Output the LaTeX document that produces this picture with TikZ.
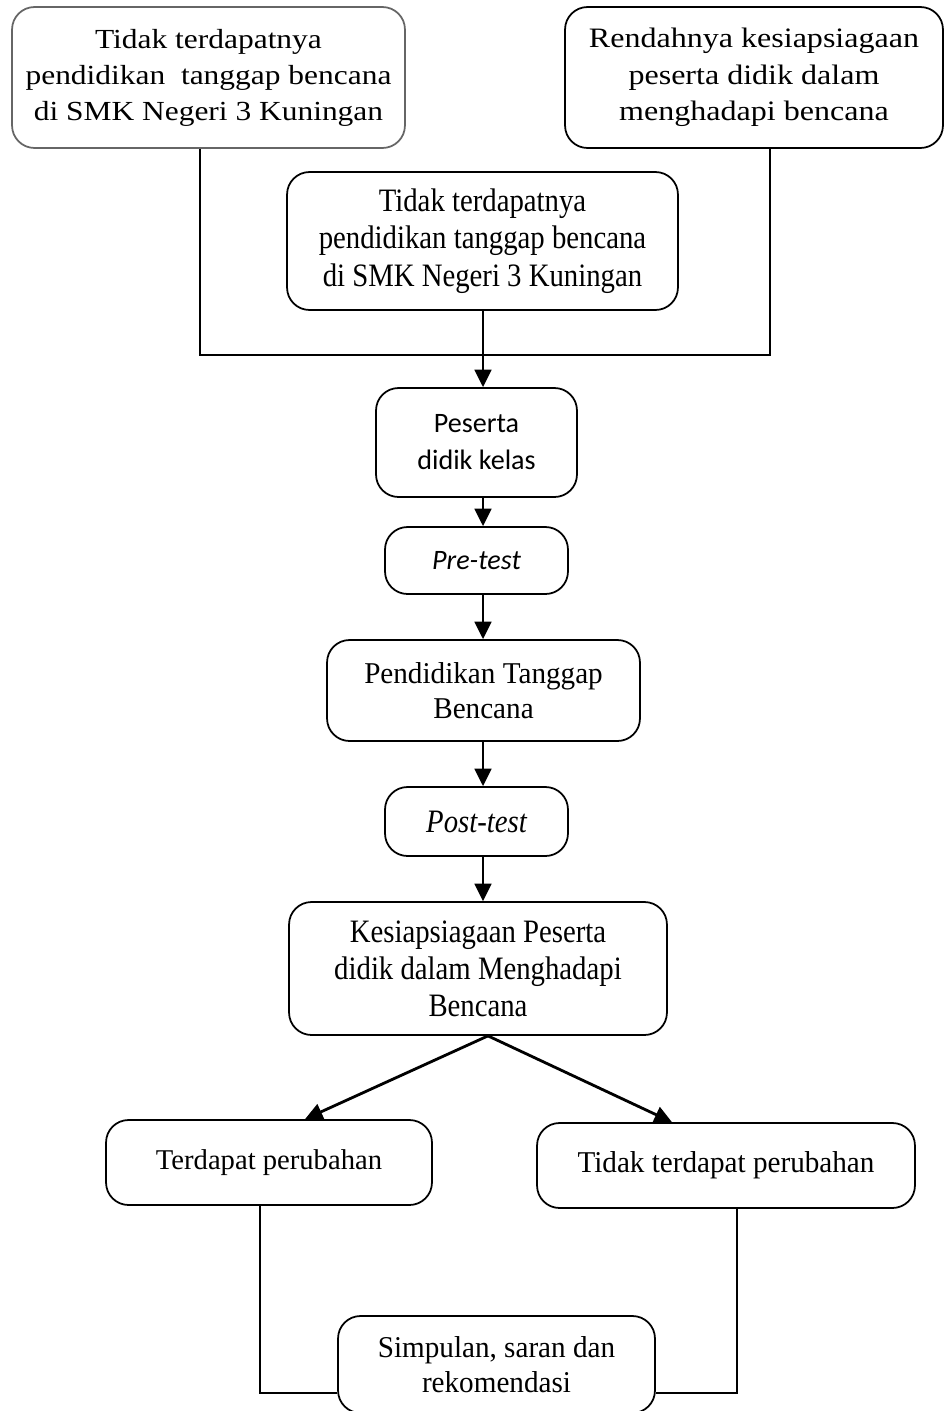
\documentclass[tikz,border=0pt]{standalone}
\usepackage{fontspec}
\setmainfont{Liberation Serif}
\newfontfamily\serifwide[FakeStretch=1.14]{Liberation Serif}
\newfontfamily\serifnarrow[FakeStretch=0.88]{Liberation Serif}
\newfontfamily\serifmid[FakeStretch=0.965]{Liberation Serif}
\newfontfamily\calibri{Carlito}
\usetikzlibrary{calc}
\usetikzlibrary{positioning}
\usetikzlibrary{arrows.meta}

\begin{document}
\begin{tikzpicture}[x=0.02cm, y=-0.02cm,
	box/.style={draw, line width=1pt, rounded corners=0.45cm, fill=white, align=center, inner sep=0pt},
	flow/.style={line width=1.6pt, -{Triangle[length=10pt,width=9.5pt]}},
	link/.style={line width=0.8pt}]
				\useasboundingbox (0,0) rectangle (945,1411);
				
				\node[box, draw=black!60, minimum width=7.86cm, minimum height=2.82cm, font=\serifwide\fontsize{15.7}{20.5}\selectfont] (0) at (208.5,77.5) {Tidak terdapatnya\\pendidikan\ \ tanggap bencana\\di SMK Negeri 3 Kuningan};
				\node[box, minimum width=7.56cm, minimum height=2.82cm, font=\serifwide\fontsize{16}{20.8}\selectfont] (1) at (754,77.5) {Rendahnya kesiapsiagaan\\peserta didik dalam\\menghadapi bencana};
				\node[box, minimum width=7.82cm, minimum height=2.76cm, font=\serifnarrow\fontsize{18.6}{21.3}\selectfont] (2) at (482.5,241) {Tidak terdapatnya\\pendidikan tanggap bencana\\di SMK Negeri 3 Kuningan};
				\node[box, minimum width=4.02cm, minimum height=2.18cm, font=\calibri\fontsize{16}{21}\selectfont] (3) at (476.5,442.5) {Peserta\\didik kelas};
				\node[box, minimum width=3.66cm, minimum height=1.34cm, font=\calibri\itshape\fontsize{16}{21}\selectfont] (4) at (476.5,560.5) {Pre-test};
				\node[box, minimum width=6.26cm, minimum height=2.02cm, font=\serifmid\fontsize{17.2}{20}\selectfont] (5) at (483.5,690.5) {Pendidikan Tanggap\\Bencana};
				\node[box, minimum width=3.66cm, minimum height=1.38cm, font=\serifnarrow\itshape\fontsize{18.6}{21}\selectfont] (6) at (476.5,821.5) {Post-test};
				\node[box, minimum width=7.56cm, minimum height=2.66cm, font=\serifnarrow\fontsize{18.6}{21}\selectfont] (7) at (478,968.5) {Kesiapsiagaan Peserta\\didik dalam Menghadapi\\Bencana};
				\node[box, minimum width=6.52cm, minimum height=1.7cm, font=\fontsize{16.3}{20}\selectfont] (8) at (269,1162.5) {Terdapat perubahan};
				\node[box, minimum width=7.56cm, minimum height=1.7cm, font=\serifmid\fontsize{17.2}{20}\selectfont] (9) at (726,1165.5) {Tidak terdapat perubahan};
				\node[box, minimum width=6.34cm, minimum height=1.94cm, font=\serifmid\fontsize{17.2}{20}\selectfont] (10) at (496.5,1364.5) {Simpulan, saran dan\\rekomendasi};
				
				\coordinate (j) at (483,355);
				\draw[link] ([xshift=-0.17cm]0.south) |- (j) -| ([xshift=0.32cm]1.south);
				
				\draw[flow] (2.south -| j) -- (3.north -| j);
				\draw[flow] (3.south -| j) -- (4.north -| j);
				\draw[flow] (4.south -| j) -- (5.north -| j);
				\draw[flow] (5.south -| j) -- (6.north -| j);
				\draw[flow] (6.south -| j) -- (7.north -| j);
				
				\draw[flow] ([xshift=0.2cm]7.south) -- ([xshift=0.72cm]8.north);
				\draw[flow] ([xshift=0.2cm]7.south) -- ([xshift=-1.08cm]9.north);
				
				\draw[link] ([xshift=-0.18cm]8.south) |- ([yshift=-0.57cm]10.west);
				\draw[link] ([xshift=0.22cm]9.south) |- ([yshift=-0.57cm]10.east);
			\end{tikzpicture}
\end{document}
